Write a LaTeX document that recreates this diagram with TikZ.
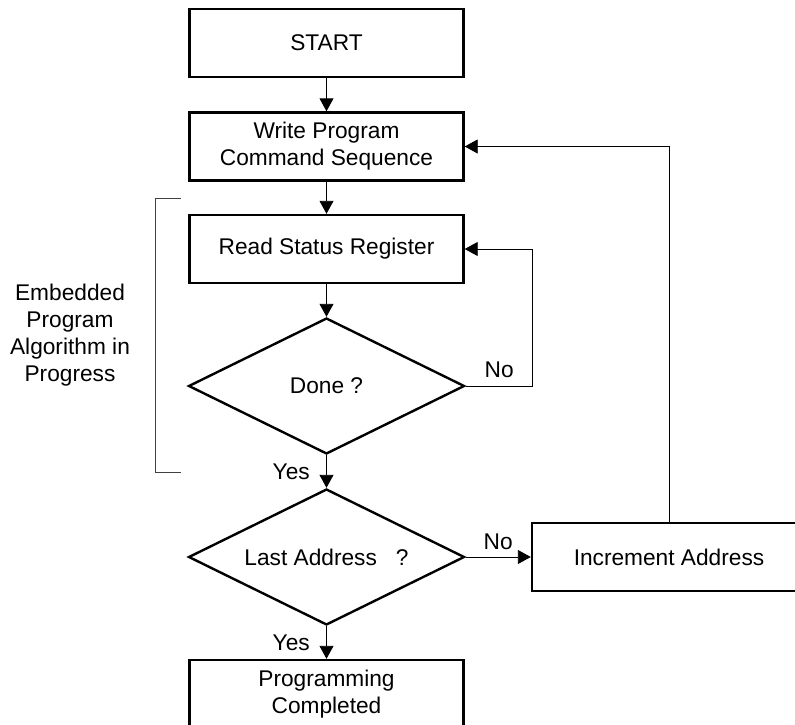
\documentclass[tikz,border=0pt]{standalone}
\usepackage{fontspec}
\setmainfont{Liberation Sans}
\usetikzlibrary{arrows.meta,positioning,shapes.geometric}

\begin{document}
\begin{tikzpicture}[
      x=1pt, y=-1pt,
      every node/.style={font=\fontsize{22.7}{27}\selectfont},
      stage/.style={
          rectangle,
          draw,
          line width=2.4pt,
          minimum width=274pt,
          minimum height=68pt,
          align=center
        },
      test/.style={
          diamond,
          aspect=2,
          draw,
          line width=2.4pt,
          inner sep=0pt,
          minimum width=276pt,
          minimum height=136pt,
          align=center
        },
      link/.style={line width=0.9pt},
      >={Triangle[length=13pt,width=14pt]}
    ]
    \useasboundingbox (0,0) rectangle (795,725);

    % Explicit positions
    \node[stage] at (326.5,43)    (start) {START};
    \node[stage] at (326.5,146.5) (write) {Write Program\\Command Sequence};
    \node[stage] at (326.5,249)   (read)  {Read Status Register};
    \node[test]  at (326.5,386)   (done)  {Done ?};
    \node[test]  at (326.5,557)   (last)  {Last Address~~~?};
    \node[stage] at (669,557)     (incr)  {Increment Address};
    \node[stage] at (326.5,694)   (prog)  {Programming\\Completed};
    \node[align=center] at (70,335) (note) {Embedded\\Program\\Algorithm in\\Progress};

    % Bracket round the embedded loop
    \coordinate (bracetop) at (181,198);
    \coordinate (bracebot) at (181,472);
    \draw[link, black!75] (bracetop) -- ++(-26,0) |- (bracebot);

    % Main flow
    \draw[link,->] (start) -- (write);
    \draw[link,->] (write) -- (read);
    \draw[link,->] (read) -- (done);
    \draw[link,->] (done) -- node[left=13pt]{Yes} (last);
    \draw[link,->] (last) -- node[left=13pt]{Yes} (prog);
    \draw[link,->] (last) -- node[above=4pt]{No} (incr);

    % Loops back
    \draw[link,->] (done.east) -- node[above=4pt]{No} ++(67,0) |- (read.east);
    \draw[link,->] (incr.north) |- (write.east);
  \end{tikzpicture}
\end{document}
